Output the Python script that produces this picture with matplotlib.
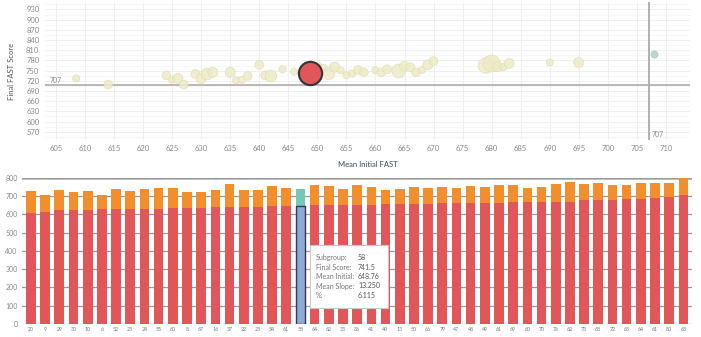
import matplotlib
matplotlib.use("Agg")
import matplotlib.pyplot as plt
from matplotlib.patches import Rectangle
import numpy as np

plt.rcParams['font.family'] = ['Lato', 'DejaVu Sans']

# subgroups, sorted by mean initial FAST
subgroups = ['20', '9', '29', '30', '10', '6', '52', '23', '24', '55', '60', '8',
             '67', '16', '37', '22', '23', '54', '61', '58', '64', '62', '33', '36',
             '41', '40', '13', '50', '66', '79', '47', '48', '49', '61', '69', '60',
             '70', '76', '62', '73', '68', '72', '63', '64', '61', '80', '63']
mean_initial = [608.5, 614, 624, 625, 626, 627, 629, 630, 631, 632, 635, 636,
                637, 638, 640, 641, 642, 644, 646, 648.76, 650, 651, 652, 653,
                654, 655, 656, 657, 658, 660, 661, 662, 664, 665, 666, 667,
                668, 669, 670, 679, 680, 681, 682, 683, 690, 695, 708]
final_score = [727, 709, 736, 723, 727, 709, 740, 727, 740, 745, 745, 721,
               723, 734, 767, 736, 734, 754, 747, 741.5, 763, 756, 741, 760,
               751, 736, 741, 752, 745, 751, 745, 754, 749, 763, 760, 745,
               752, 767, 778, 765, 771, 762, 760, 771, 774, 774, 800]
subgroup_n = [4, 6, 6, 4, 8, 6, 6, 8, 11, 8, 8, 4,
              4, 6, 6, 6, 11, 4, 4, 12, 6, 6, 11, 8,
              4, 4, 4, 6, 6, 4, 6, 6, 15, 8, 6, 6,
              4, 8, 6, 19, 23, 8, 4, 8, 4, 8, 4]
selected_idx = 19
ref_line = 707

tooltip_labels = ['Subgroup:', 'Final Score:', 'Mean Initial:', 'Mean Slope:', '%:']
tooltip_values = ['58', '741.5', '648.76', '13.250', '6.115']

RED = '#e15759'
ORANGE = '#f28e2b'
BLUE = '#8fa9d9'
TEAL = '#76c7b9'
BUBBLE = '#eeecc6'
TICK = '#8a8a8a'

fig = plt.figure(figsize=(7.01, 3.37), dpi=100)

# ---- top: bubble chart ----
ax1 = fig.add_axes([0.064, 0.585, 0.920, 0.409])
ax1.set_xlim(603.1, 714.1)
ax1.set_ylim(546, 952)
ax1.set_xticks(np.arange(605, 711, 5))
ax1.set_yticks(np.arange(570, 931, 30))
ax1.set_yticks(np.arange(555, 946, 15), minor=True)
ax1.grid(True, which='major', color='#ececec', lw=0.6)
ax1.grid(True, which='minor', axis='y', color='#f4f4f4', lw=0.5)
ax1.set_axisbelow(True)
for s in ax1.spines.values():
    s.set_visible(False)
ax1.tick_params(which='both', length=0, labelsize=5.5, labelcolor=TICK, pad=4)
ax1.set_xlabel('Mean Initial FAST', fontsize=5.5, color='#3b4a66', labelpad=6)
ax1.set_ylabel('Final FAST Score', fontsize=5.5, color='#555555', labelpad=8)

ax1.axhline(ref_line, color='#b8b8b8', lw=1.4, zorder=1)
ax1.axvline(ref_line, color='#b0b0b0', lw=1.4, zorder=1)
ax1.text(604.0, ref_line + 4, str(ref_line), fontsize=5, color=TICK, va='bottom')
ax1.text(ref_line + 0.5, 552, str(ref_line), fontsize=5, color=TICK, va='bottom')

mi = np.array(mean_initial)
fs = np.array(final_score)
sizes = np.array(subgroup_n) * 6.5
others = [i for i in range(len(mi)) if i != selected_idx and i != len(mi) - 1]
ax1.scatter(mi[others], fs[others], s=sizes[others], color=BUBBLE, alpha=0.85,
            edgecolor='#dedbb2', lw=0.5, zorder=2)
ax1.scatter(mi[-1], fs[-1], s=sizes[-1], color='#b9d8ca', edgecolor='#a8cbbb',
            lw=0.5, zorder=2)
ax1.scatter(mi[selected_idx], fs[selected_idx], s=280, color=RED,
            edgecolor='#333333', lw=1.5, zorder=3)

# ---- bottom: stacked bars ----
ax2 = fig.add_axes([0.031, 0.039, 0.956, 0.433])
x = np.arange(len(subgroups))
gain = fs - mi
base_col = [BLUE if i == selected_idx else RED for i in x]
top_col = [TEAL if i == selected_idx else ORANGE for i in x]
ax2.bar(x, mi, width=0.68, color=base_col, zorder=2)
ax2.bar(x, gain, bottom=mi, width=0.68, color=top_col, zorder=2)
ax2.bar(selected_idx, mi[selected_idx], width=0.68, color='none',
        edgecolor='#2f3a4f', lw=1.0, zorder=3)
ax2.set_xlim(-0.65, 46.6)
ax2.set_ylim(0, 800)
ax2.set_yticks(np.arange(0, 801, 100))
ax2.set_xticks(x)
ax2.set_xticklabels(subgroups)
ax2.grid(True, axis='y', color='#9a9a9a', lw=0.9, zorder=0)
ax2.axhline(800, color='#bdbdbd', lw=2.0, zorder=1)
for s in ax2.spines.values():
    s.set_visible(False)
ax2.tick_params(axis='y', length=0, labelsize=5, labelcolor=TICK, pad=3)
ax2.tick_params(axis='x', length=0, labelsize=3.8, labelcolor='#777777', pad=2)

# tooltip for the selected subgroup
fig.add_artist(Rectangle((310 / 701, 1 - 308 / 337), 78 / 701, 63 / 337,
                         transform=fig.transFigure, facecolor='white',
                         edgecolor='#c8c8c8', lw=0.8, zorder=10))
for k, (lab, val) in enumerate(zip(tooltip_labels, tooltip_values)):
    yy = 1 - (257.5 + k * 9.5) / 337
    fig.text(316 / 701, yy, lab, fontsize=5, color='#777777', va='center', zorder=11)
    fig.text(358 / 701, yy, val, fontsize=5, color='#555555', va='center', zorder=11)

fig.savefig('out.png', dpi=100)
